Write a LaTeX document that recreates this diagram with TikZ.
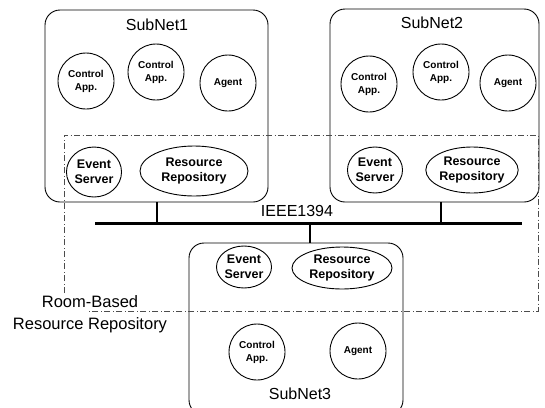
\documentclass[tikz,border=0pt]{standalone}
\usepackage{fontspec}
\setmainfont{Liberation Sans}
\usetikzlibrary{shapes.geometric,positioning}

\begin{document}
\begin{tikzpicture}[x=1pt,y=-1pt,line width=0.9pt]

  \tikzstyle{subnet} = [draw, rounded corners=15pt, inner sep=0pt]
  \tikzstyle{app}    = [draw, circle, minimum size=56pt, inner sep=0pt, align=center,
                        font=\bfseries\fontsize{10}{13}\selectfont]
  \tikzstyle{server} = [draw, ellipse, inner sep=0pt, align=center,
                        font=\bfseries\fontsize{12.5}{15}\selectfont]
  \tikzstyle{title}  = [font=\fontsize{16}{18}\selectfont]
  \tikzstyle{room}   = [draw, thin, black!70, dash pattern=on 6pt off 2.5pt on 1pt off 2.5pt]

  \useasboundingbox (0,0) rectangle (545,407);

  % subnets
  \node[subnet, minimum width=223pt, minimum height=192pt] (N1) at (156.5,106) {};
  \node[subnet, minimum width=209pt, minimum height=193pt] (N2) at (434.5,105.5) {};
  \node[subnet, minimum width=214pt, minimum height=172pt] (N3) at (296,329) {};
  \node[title] (T1) at (157,25)  {SubNet1};
  \node[title] (T2) at (432,23)  {SubNet2};
  \node[title] (T3) at (300,394) {SubNet3};

  % SubNet1
  \node[app] (A11) at (86,81)  {Control\\App.};
  \node[app] (A12) at (156,72) {Control\\App.};
  \node[app] (G1)  at (228,83) {Agent};
  \node[server, minimum width=54pt, minimum height=50pt]  (E1) at (94,172)  {Event\\Server};
  \node[server, minimum width=108pt, minimum height=50pt] (R1) at (194,171) {Resource\\Repository};

  % SubNet2
  \node[app] (A21) at (369,84) {Control\\App.};
  \node[app] (A22) at (441,72) {Control\\App.};
  \node[app] (G2)  at (508,83) {Agent};
  \node[server, minimum width=50pt, minimum height=46pt] (E2) at (375,170) {Event\\Server};
  \node[server, minimum width=92pt, minimum height=46pt] (R2) at (472,170) {Resource\\Repository};

  % SubNet3
  \node[server, minimum width=48pt, minimum height=42pt]  (E3) at (244,267) {Event\\Server};
  \node[server, minimum width=100pt, minimum height=42pt] (R3) at (342,268) {Resource\\Repository};
  \node[app] (A31) at (257,352) {Control\\App.};
  \node[app] (G3)  at (358,351) {Agent};

  % bus
  \coordinate (busL) at (95,223);
  \coordinate (busR) at (522,223);
  \node[title] (bus) at (297,211) {IEEE1394};
  \draw[line width=3pt] (busL) -- (busR);
  \draw[line width=2pt] (N1.south) -- (N1.south |- busL);
  \draw[line width=2pt] ([xshift=6pt]N2.south) -- ([xshift=6pt]N2.south |- busL);
  \draw[line width=2pt] ([xshift=14pt]N3.north) -- ([xshift=14pt]N3.north |- busL);

  % room based repository
  \coordinate (r1) at (64,293);
  \coordinate (r2) at (64,135);
  \coordinate (r3) at (538,135);
  \coordinate (r4) at (538,311);
  \coordinate (r5) at (88,311);
  \draw[room] (r1) -- (r2) -- (r3) -- (r4) -- (r5);
  \node[font=\fontsize{16.5}{22}\selectfont, align=center] (room) at (90,314)
       {Room-Based\\Resource Repository};

\end{tikzpicture}
\end{document}
